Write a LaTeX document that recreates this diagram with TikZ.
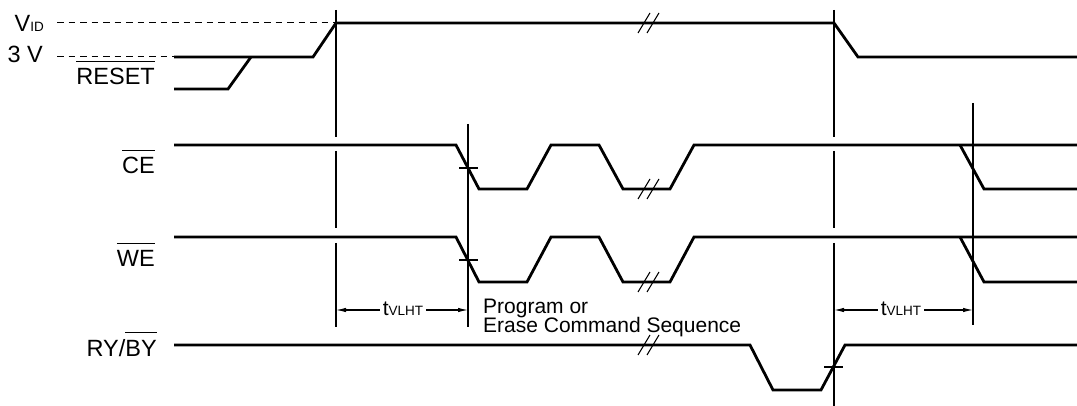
\documentclass[tikz,border=0pt]{standalone}
\usepackage{fontspec}
\setmainfont{Liberation Sans}
\usetikzlibrary{arrows.meta}
\newcommand\ovl[1]{\setbox0\hbox{#1}\rlap{\rule[23pt]{\wd0}{1.2pt}}\box0}
\newcommand\subsz{\fontsize{13.5}{14}\selectfont}
\begin{document}
\begin{tikzpicture}[x=1pt,y=-1pt,
  sig/.style={line width=2.8pt, line join=miter},
  guide/.style={line width=1.1pt},
  refdash/.style={line width=1pt, dash pattern=on 6.5pt off 5pt},
  lbl/.style={anchor=base east, inner sep=0pt, font=\fontsize{23.5}{26}\selectfont},
  txt/.style={anchor=base west, inner sep=0pt, font=\fontsize{21}{22}\selectfont},
  tv/.style={anchor=base, inner sep=3pt, font=\fontsize{21}{22}\selectfont},
  dim/.style={line width=1.1pt, -{Latex[length=10pt,width=4.5pt]}},
  brk/.pic={\draw[line width=1.1pt] (-10,10) -- (2,-10) (-1,10) -- (11,-10);}
]
\useasboundingbox (0,0) rectangle (1077,406);

% labels
\node[lbl] (vid) at (44,32) {V{\subsz ID}};
\node[lbl] (three) at (43,63) {3 V};
\node[lbl] (reset) at (155,85) {\ovl{RESET}};
\node[lbl] (ce) at (155,174) {\ovl{CE}};
\node[lbl] (we) at (155,267) {\ovl{WE}};
\node[lbl] (ry) at (157,356) {RY/\ovl{BY}};

% reference dashed levels
\draw[refdash] (57,23) -- (377,23);
\draw[refdash] (57,57) -- (174,57);

% vertical guides
\draw[guide] (336,10) -- (336,137) (336,151) -- (336,228) (336,243) -- (336,327);
\draw[guide] (468,124) -- (468,327);
\draw[guide] (834,10) -- (834,137) (834,151) -- (834,228) (834,243) -- (834,406);
\draw[guide] (973,103) -- (973,325);

% signals
\draw[sig] (174,57) -- (313,57) -- (336,23) -- (834,23) -- (858,57) -- (1077,57);
\draw[sig] (174,89) -- (228,89) -- (251,57);
\draw[sig] (174,145) -- (456,145) -- (479,189) -- (527,189) -- (551,145) -- (599,145) -- (623,189) -- (670,189) -- (694,145) -- (1077,145);
\draw[sig] (960,145) -- (984,189) -- (1077,189);
\draw[sig] (174,237) -- (456,237) -- (479,282) -- (527,282) -- (551,237) -- (599,237) -- (623,282) -- (670,282) -- (694,237) -- (1077,237);
\draw[sig] (960,237) -- (984,282) -- (1077,282);
\draw[sig] (174,345) -- (750,345) -- (773,390) -- (821,390) -- (845,345) -- (1077,345);

% break marks
\pic at (648,23) {brk};
\pic at (648,189) {brk};
\pic at (648,282) {brk};
\pic at (648,345) {brk};

% crossing ticks
\draw[guide] (459,168) -- (478,168);
\draw[guide] (459,260) -- (478,260);
\draw[guide] (824,367) -- (843,367);

% timing dimensions
\coordinate (d1l) at (336,310);
\coordinate (d1r) at (468,310);
\node[tv] (t1) at (403,316) {t{\subsz VLHT}};
\draw[dim] (t1.west |- d1l) -- (d1l);
\draw[dim] (t1.east |- d1r) -- (d1r);
\coordinate (d2l) at (834,310);
\coordinate (d2r) at (973,310);
\node[tv] (t2) at (901,316) {t{\subsz VLHT}};
\draw[dim] (t2.west |- d2l) -- (d2l);
\draw[dim] (t2.east |- d2r) -- (d2r);

% text
\node[txt] (prog) at (483,313) {Program or};
\node[txt] (erase) at (483,332) {Erase Command Sequence};
\end{tikzpicture}
\end{document}
